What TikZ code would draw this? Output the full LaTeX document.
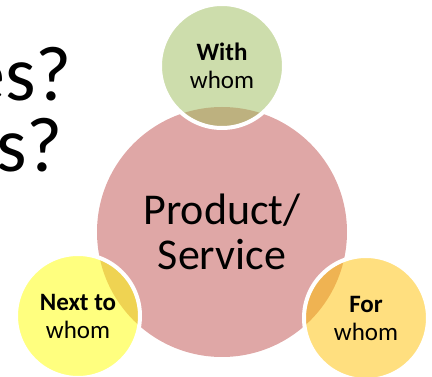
\documentclass[tikz,border=0pt]{standalone}
\usepackage{fontspec}
\setmainfont{Carlito}
\usepackage{tikz}

\definecolor{prodred}{HTML}{C0504D}
\definecolor{withgreen}{HTML}{9BBB59}
\definecolor{nextyellow}{HTML}{FFFF00}
\definecolor{forgold}{HTML}{FFC000}

\begin{document}
\begin{tikzpicture}[x=1pt, y=1pt,
	bigdisc/.style={circle, inner sep=0pt, outer sep=0pt, minimum size=250pt,
		fill=prodred, fill opacity=0.5, text opacity=1, align=center,
		font=\fontsize{44}{45}\selectfont},
	satdisc/.style={circle, inner sep=0pt, outer sep=0pt, minimum size=124pt,
		fill=#1, fill opacity=0.5, draw=white, draw opacity=1, line width=4pt,
		text opacity=1, align=center, font=\fontsize{25}{28}\selectfont},
	asktext/.style={anchor=base east, inner sep=0pt, font=\fontsize{78}{78}\selectfont}]
	\useasboundingbox (0,0) rectangle (432,-377);
	\clip (0,0) rectangle (432,-377);

	% questions running off the left edge
	\node[asktext] (ask1) at (72,-101) {es?};
	\node[asktext] (ask2) at (63,-172) {s?};

	\node[bigdisc] (prod) at (222,-232) {Product/\\Service};

	\node[satdisc=withgreen] (with) at (222,-66) {\textbf{With}\\whom};
	\node[satdisc=nextyellow] (next) at (78,-316) {\textbf{Next to}\\whom};
	\node[satdisc=forgold] (for) at (366,-318) {\textbf{For}\\whom};
\end{tikzpicture}
\end{document}
